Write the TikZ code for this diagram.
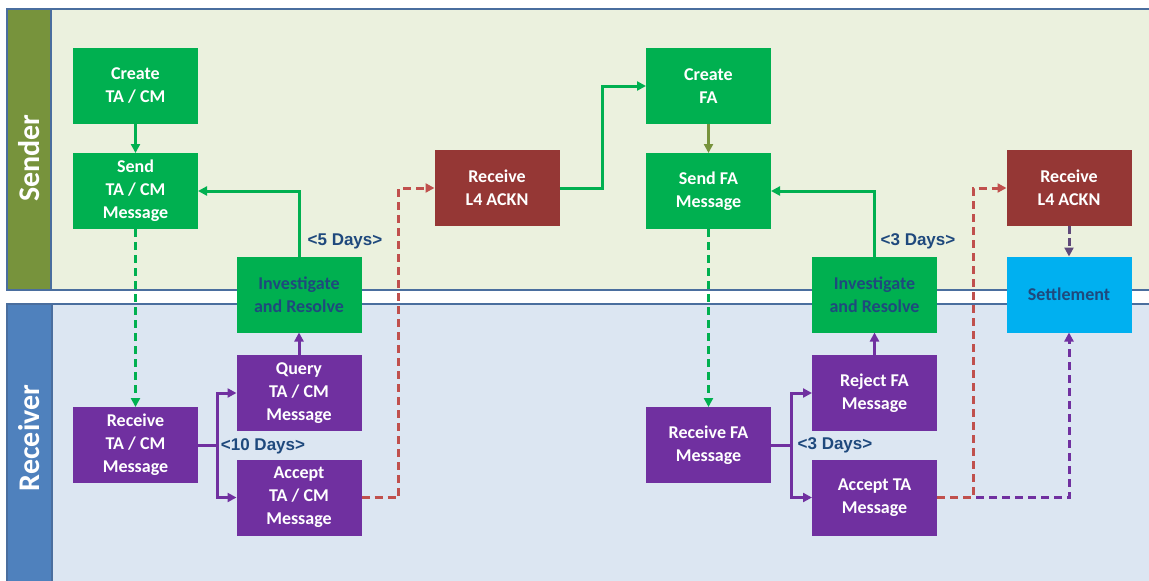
\documentclass[tikz,border=0pt]{standalone}
\usepackage{fontspec}
\setmainfont{Carlito}
\newfontfamily\arialf{Liberation Sans}
\usetikzlibrary{arrows.meta}
\definecolor{sgreen}{HTML}{00B050}
\definecolor{olive}{HTML}{77933C}
\definecolor{sfill}{HTML}{EBF1DE}
\definecolor{rfill}{HTML}{DCE6F2}
\definecolor{rbar}{HTML}{4F81BD}
\definecolor{lborder}{HTML}{4A6E9E}
\definecolor{dred}{HTML}{953735}
\definecolor{lred}{HTML}{C0504D}
\definecolor{purp}{HTML}{7030A0}
\definecolor{dpurp}{HTML}{5F497A}
\definecolor{cyan1}{HTML}{00B0F0}
\definecolor{dblue}{HTML}{1F497D}
\tikzset{
  box/.style={rectangle, minimum width=125pt, minimum height=76pt, inner sep=0pt, outer sep=0pt,
     align=center, text=white, font=\fontsize{18}{23}\selectfont\bfseries},
  gbox/.style={box, fill=sgreen},
  rbox/.style={box, fill=dred},
  pbox/.style={box, fill=purp},
  ibox/.style={box, fill=sgreen, text=dblue},
  cbox/.style={box, fill=cyan1, text=dblue},
  lanebar/.style={draw=lborder, line width=1.5pt},
  lanelabel/.style={rotate=90, text=white, font=\fontsize{30}{36}\selectfont\bfseries},
  days/.style={text=dblue, font=\arialf\fontsize{17}{20}\selectfont\bfseries, inner sep=0pt},
  conn/.style={line width=3pt, -{Triangle[length=9pt,width=9pt]}},
  gsolid/.style={conn, draw=sgreen},
  gdash/.style={conn, draw=sgreen, dash pattern=on 8pt off 5pt},
  psolid/.style={conn, draw=purp},
  pdash/.style={conn, draw=purp, dash pattern=on 8pt off 5pt},
  rdash/.style={conn, draw=lred, dash pattern=on 8pt off 5pt},
}
\begin{document}
\begin{tikzpicture}[x=1pt,y=-1pt]
\useasboundingbox (0,0) rectangle (1149,581);
\fill[white] (0,0) rectangle (1149,581);
% lanes
\fill[sfill] (51,9) rectangle (1160,290);
\fill[olive] (7,9) rectangle (51,290);
\draw[lanebar] (1160,9) -- (7,9) -- (7,290) -- (1160,290);
\draw[lanebar] (51,9) -- (51,290);
\fill[rfill] (52,304) rectangle (1160,590);
\fill[rbar] (7,304) rectangle (52,590);
\draw[lanebar] (1160,304) -- (7,304) -- (7,590);
\draw[lanebar] (52,304) -- (52,590);
\node[lanelabel] (lsend) at (29,158) {Sender};
\node[lanelabel] (lrecv) at (29,438) {Receiver};
% nodes
\node[gbox] (c1) at (135.5,86) {Create\\TA / CM};
\node[gbox] (s1) at (135.5,191) {Send\\TA / CM\\Message};
\node[pbox] (r1) at (135.5,445) {Receive\\TA / CM\\Message};
\node[ibox] (i1) at (299,294.5) {Investigate\\and Resolve};
\node[pbox] (q1) at (299,393) {Query\\TA / CM\\Message};
\node[pbox] (a1) at (299,497.5) {Accept\\TA / CM\\Message};
\node[rbox] (k1) at (497,188) {Receive\\L4 ACKN};
\node[gbox] (c2) at (708.5,86) {Create\\FA};
\node[gbox] (s2) at (708.5,191) {Send FA\\Message};
\node[pbox] (r2) at (708.5,445) {Receive FA\\Message};
\node[ibox] (i2) at (874.5,294.5) {Investigate\\and Resolve};
\node[pbox] (q2) at (874.5,393) {Reject FA\\Message};
\node[pbox] (a2) at (874.5,497.5) {Accept TA\\Message};
\node[rbox] (k2) at (1069,188) {Receive\\L4 ACKN};
\node[cbox] (st) at (1069,294.5) {Settlement};
% coordinates
\coordinate (b1) at (217,445);
\coordinate (b2) at (791,445);
% connectors
\draw[gsolid] (c1) -- (s1);
\draw[gdash] (s1) -- (r1);
\draw[gsolid] (i1.north) |- (s1.east);
\draw[psolid] (q1) -- (i1);
\draw[line width=3pt, draw=purp] (r1.east) -- (b1);
\draw[psolid] (b1) |- (q1.west);
\draw[psolid] (b1) |- (a1.west);
\draw[rdash] (a1.east) -- ++(37,0) |- (k1.west);
\draw[gsolid] (k1.east) -- ++(43,0) |- (c2.west);
\draw[conn, draw=olive] (c2) -- (s2);
\draw[gdash] (s2) -- (r2);
\draw[gsolid] (i2.north) |- (s2.east);
\draw[psolid] (q2) -- (i2);
\draw[line width=3pt, draw=purp] (r2.east) -- (b2);
\draw[psolid] (b2) |- (q2.west);
\draw[psolid] (b2) |- (a2.west);
\draw[pdash] (a2.east) -| (st.south);
\draw[rdash] (a2.east) -- ++(36,0) |- (k2.west);
\draw[conn, draw=dpurp, dash pattern=on 8pt off 4pt] (k2) -- (st);
% labels
\node[days] (d1) at (345,241) {<5 Days>};
\node[days] (d2) at (263,446) {<10 Days>};
\node[days] (d3) at (918,241) {<3 Days>};
\node[days] (d4) at (835,445) {<3 Days>};
\end{tikzpicture}
\end{document}
